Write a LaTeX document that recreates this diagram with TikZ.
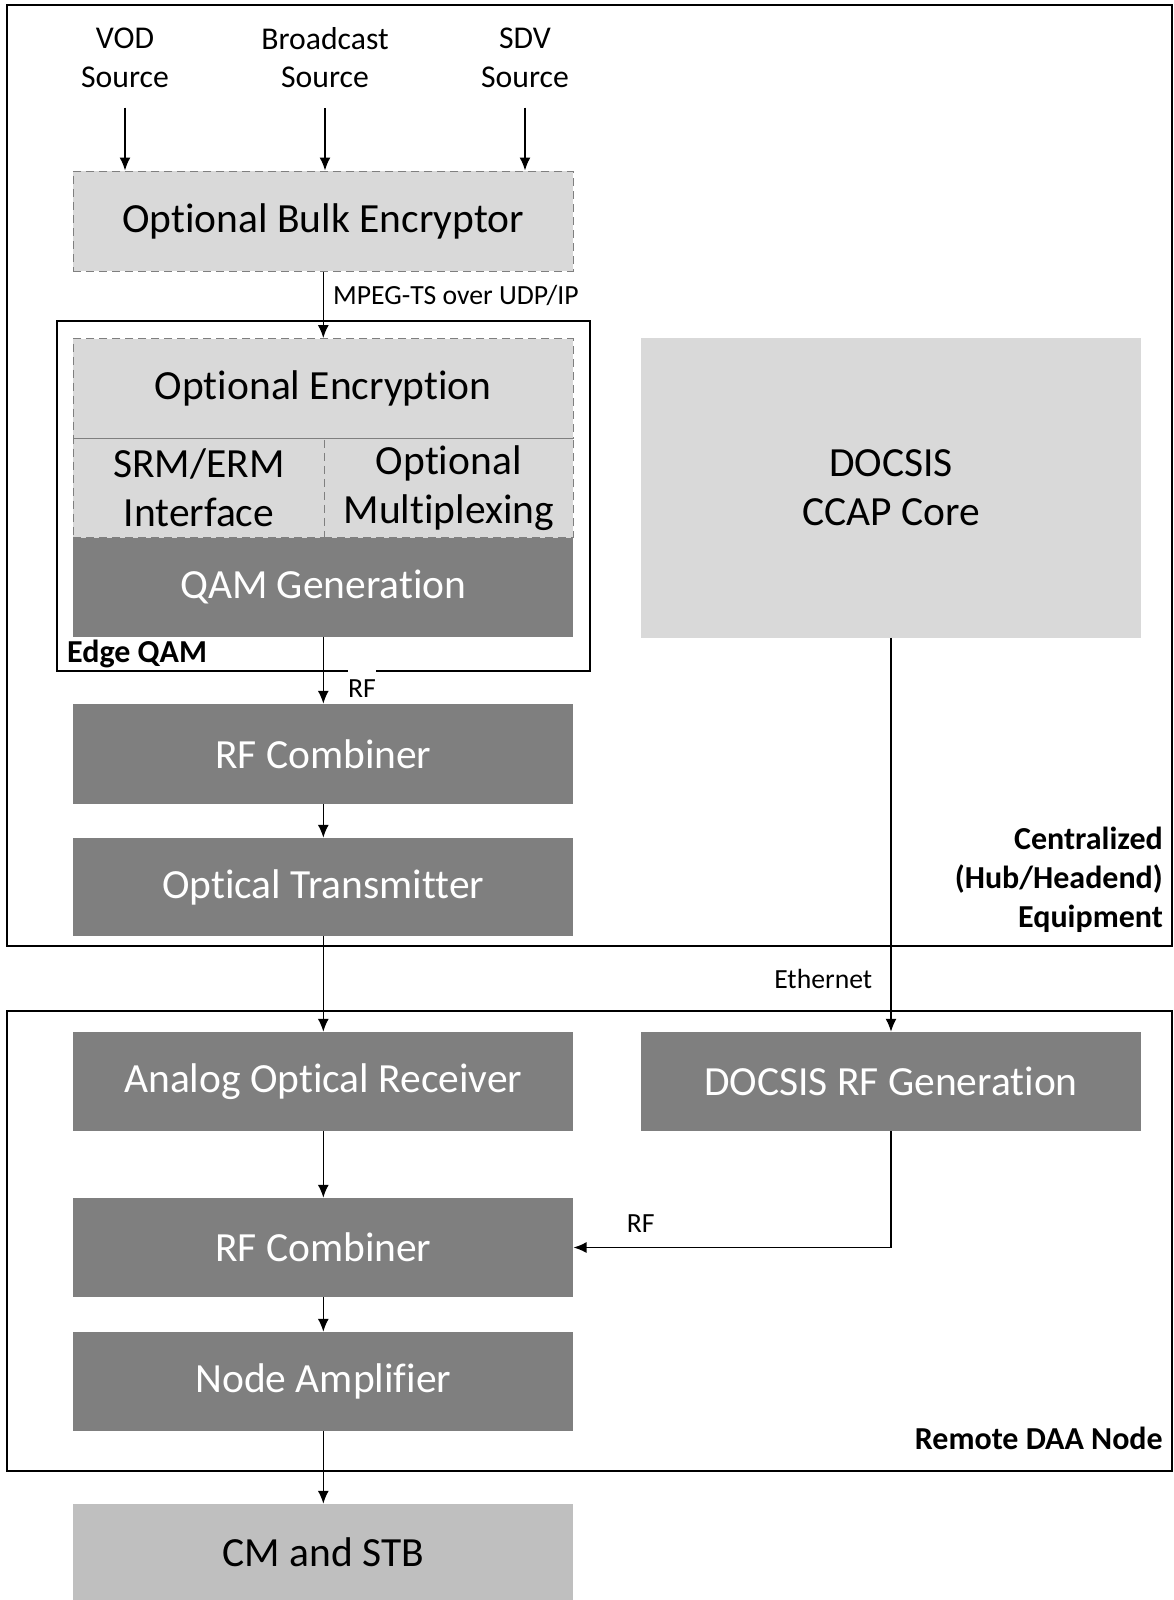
\documentclass[tikz,border=0pt]{standalone}
\usepackage{fontspec}
\setmainfont{Carlito}[Ligatures=CommonOff]
\usetikzlibrary{arrows.meta}

\definecolor{boxlight}{HTML}{D9D9D9}
\definecolor{boxdark}{HTML}{7F7F7F}
\definecolor{boxend}{HTML}{BFBFBF}

\newcommand\boxfont{\fontsize{41.5}{49}\selectfont}
\newcommand\srcfont{\fontsize{31.7}{38.8}\selectfont}
\newcommand\lblfont{\fontsize{27.7}{33}\selectfont}
\newcommand\tagfont{\fontsize{32}{38.8}\selectfont\bfseries}

\tikzset{>={Latex[length=13pt,width=11pt]},
  every node/.style={inner sep=0pt},
  blk/.style={minimum width=500pt,minimum height=99pt,font=\boxfont,align=center},
  darkblk/.style={blk,fill=boxdark,text=white},
  lightblk/.style={blk,fill=boxlight},
  optblk/.style={lightblk,draw=boxdark,dash pattern=on 8pt off 5pt,line width=1pt},
  zonebox/.style={draw,line width=1.8pt},
  conn/.style={->,line width=1.6pt},
  lbl/.style={font=\lblfont}}

\begin{document}
\begin{tikzpicture}[x=1pt,y=-1pt]
    \useasboundingbox (0,0) rectangle (1174,1600);
    % zones
    \draw[zonebox] (7,5) rectangle (1172,946);
    \draw[zonebox] (7,1011) rectangle (1172,1471);
    \draw[zonebox] (57,321) rectangle (590,671);

    % left column
    \node[optblk,minimum height=100pt] (bulk) at (323.3,221) {Optional Bulk Encryptor};
    \node[optblk,minimum height=100pt] (enc) at (323.3,388.6) {Optional Encryption};
    \node[optblk,minimum width=251pt] (srm) at (198.9,488) {SRM/ERM\\Interface};
    \node[optblk,minimum width=248.8pt] (mux) at (448.8,488) {Optional\\Multiplexing};
    \node[darkblk] (qam) at (323.3,587) {QAM Generation};
    \node[darkblk,minimum height=100pt] (rfc1) at (323.3,754) {RF Combiner};
    \node[darkblk,minimum height=98pt] (otx) at (323.3,887) {Optical Transmitter};
    \node[darkblk] (aor) at (323.3,1081.5) {Analog Optical Receiver};
    \node[darkblk] (rfc2) at (323.3,1247.5) {RF Combiner};
    \node[darkblk] (namp) at (323.3,1381.5) {Node Amplifier};
    \node[lightblk,fill=boxend,minimum height=96pt] (cm) at (323.3,1552) {CM and STB};

    % right column
    \node[lightblk,minimum height=299.5pt] (ccap) at (891,487.8) {DOCSIS\\CCAP Core};
    \node[darkblk] (drf) at (891,1081.5) {DOCSIS RF Generation};

    % sources
    \foreach \x/\nm/\txt in {125/vod/VOD,325/bcast/Broadcast,525/sdv/SDV}{
        \node[font=\srcfont,align=center,inner ysep=20pt] (\nm) at (\x,57.7) {\txt\\Source};
        \draw[conn] (\nm.south) -- (\nm.south |- bulk.north);
    }

    % zone tags
    \node[font=\tagfont,anchor=west] (edgetag) at (67,654) {Edge QAM};
    \node[font=\tagfont,anchor=east,align=right] (hubtag) at (1163,880) {Centralized\\(Hub/Headend)\\Equipment};
    \node[font=\tagfont,anchor=east] (daatag) at (1163,1438) {Remote DAA Node};

    % connectors
    \draw[conn] (bulk.south) -- node[lbl,pos=0.355,right=9pt] (mpeg) {MPEG-TS over UDP/IP} (enc.north);
    \draw[conn] (qam.south) -- node[lbl,pos=0.704,right=24pt,fill=white,inner ysep=1pt,text height=27.7pt,text depth=0pt] (rfa) {RF} (rfc1.north);
    \foreach \a/\b in {rfc1/otx,otx/aor,aor/rfc2,rfc2/namp,namp/cm}{
        \draw[conn] (\a.south) -- (\b.north);
    }
    \draw[conn] (ccap.south) -- node[lbl,pos=0.866,left=18pt] (eth) {Ethernet} (drf.north);
    \draw[conn] (drf.south) |- node[lbl,pos=0.894,above=14pt] (rfb) {RF} (rfc2.east);
\end{tikzpicture}
\end{document}
